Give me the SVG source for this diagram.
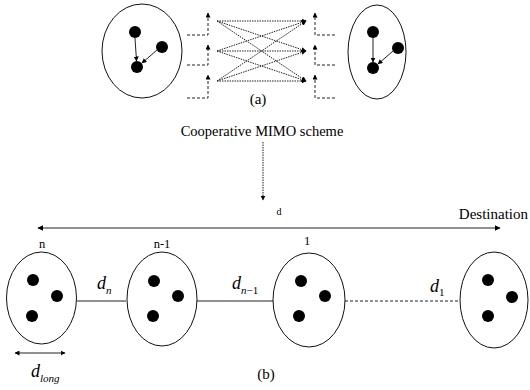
<svg xmlns="http://www.w3.org/2000/svg" width="530" height="390" viewBox="0 0 530 390">
<defs>
<marker id="ah" viewBox="0 0 10 10" refX="9" refY="5" markerWidth="6" markerHeight="6" orient="auto-start-reverse" markerUnits="userSpaceOnUse"><path d="M0,0 L10,5 L0,10 z" fill="#000"/></marker>
<marker id="ahs" viewBox="0 0 10 10" refX="9" refY="5" markerWidth="5" markerHeight="5" orient="auto-start-reverse" markerUnits="userSpaceOnUse"><path d="M0,0 L10,5 L0,10 z" fill="#000"/></marker>
</defs>
<style>
.ell{fill:#fff;stroke:#111;stroke-width:1}
.dot{fill:#000}
.ln{stroke:#222;stroke-width:1;fill:none}
.dash{stroke:#222;stroke-width:1;fill:none;stroke-dasharray:3 2}
.dot2{stroke:#222;stroke-width:1;fill:none;stroke-dasharray:1.5 1}
text{font-family:'Liberation Serif','Times New Roman','DejaVu Serif',serif;fill:#000}
.ti{font-style:italic}
</style>
<rect width="530" height="390" fill="#fff"/>

<g id="clusterA_left">
<ellipse class="ell" cx="142" cy="51" rx="40" ry="47"/>
<circle class="dot" cx="135" cy="32" r="6"/>
<circle class="dot" cx="162" cy="47" r="6"/>
<circle class="dot" cx="137" cy="67" r="6"/>
</g>
<g id="clusterA_right">
<ellipse class="ell" cx="377" cy="52" rx="29" ry="47"/>
<circle class="dot" cx="373" cy="32" r="6"/>
<circle class="dot" cx="398" cy="48" r="6"/>
<circle class="dot" cx="373" cy="68" r="6"/>
</g>

<g id="connectors">
<line class="ln" x1="135" y1="38" x2="136.5" y2="61" marker-end="url(#ahs)"/>
<line class="ln" x1="157" y1="50" x2="142" y2="63" marker-end="url(#ahs)"/>
<line class="ln" x1="373" y1="38" x2="373" y2="62" marker-end="url(#ahs)"/>
<line class="ln" x1="393" y1="51" x2="378" y2="64" marker-end="url(#ahs)"/>

<path class="dash" d="M187,35 H208 V13" marker-end="url(#ahs)"/>
<path class="dash" d="M187,65 H208 V45" marker-end="url(#ahs)"/>
<path class="dash" d="M187,98 H208 V75" marker-end="url(#ahs)"/>
<path class="dash" d="M335,35 H315 V13" marker-end="url(#ahs)"/>
<path class="dash" d="M335,65 H315 V45" marker-end="url(#ahs)"/>
<path class="dash" d="M335,98 H315 V75" marker-end="url(#ahs)"/>

<g class="dot2" marker-end="url(#ahs)">
<line x1="217" y1="21" x2="306" y2="21"/>
<line x1="217" y1="21" x2="306" y2="51"/>
<line x1="217" y1="21" x2="306" y2="81"/>
<line x1="217" y1="51" x2="306" y2="21"/>
<line x1="217" y1="51" x2="306" y2="51"/>
<line x1="217" y1="51" x2="306" y2="81"/>
<line x1="217" y1="81" x2="306" y2="21"/>
<line x1="217" y1="81" x2="306" y2="51"/>
<line x1="217" y1="81" x2="306" y2="81"/>
</g>

<line class="dot2" x1="263" y1="142" x2="263" y2="200" marker-end="url(#ahs)"/>
<line class="ln" x1="38" y1="228" x2="500" y2="228" stroke-width="1.3" marker-start="url(#ah)" marker-end="url(#ah)"/>

<line class="ln" x1="77" y1="301" x2="126" y2="301" stroke="#444" stroke-width="1.3"/>
<line class="ln" x1="197" y1="301" x2="273" y2="301" stroke="#444" stroke-width="1.3"/>
<line class="dash" x1="345" y1="301" x2="460" y2="301" stroke-dasharray="4 2.5"/>

<line class="ln" x1="15" y1="353" x2="65" y2="353" marker-start="url(#ahs)" marker-end="url(#ahs)"/>
</g>

<g id="cluster_n">
<ellipse class="ell" cx="41.5" cy="298" rx="35" ry="46"/>
<circle class="dot" cx="33" cy="280" r="6"/>
<circle class="dot" cx="57" cy="296" r="6"/>
<circle class="dot" cx="32" cy="316" r="6"/>
</g>
<g id="cluster_n1">
<ellipse class="ell" cx="162" cy="299" rx="35" ry="47"/>
<circle class="dot" cx="154" cy="281" r="6"/>
<circle class="dot" cx="178" cy="296" r="6"/>
<circle class="dot" cx="153" cy="316" r="6"/>
</g>
<g id="cluster_1">
<ellipse class="ell" cx="309" cy="300" rx="36" ry="47"/>
<circle class="dot" cx="301" cy="281" r="6"/>
<circle class="dot" cx="325" cy="296" r="6"/>
<circle class="dot" cx="299" cy="316" r="6"/>
</g>
<g id="cluster_dest">
<ellipse class="ell" cx="494" cy="300" rx="34" ry="48"/>
<circle class="dot" cx="488" cy="280" r="6"/>
<circle class="dot" cx="512" cy="297" r="6"/>
<circle class="dot" cx="488" cy="316" r="6"/>
</g>

<g id="labels">
<text x="258" y="104" font-size="15" text-anchor="middle">(a)</text>
<text x="262" y="136" font-size="14.5" text-anchor="middle">Cooperative MIMO scheme</text>
<text x="279" y="215" font-size="10" text-anchor="middle">d</text>
<text x="528" y="219" font-size="15" text-anchor="end">Destination</text>
<text x="42" y="248" font-size="12.5" text-anchor="middle">n</text>
<text x="162" y="248" font-size="12.5" text-anchor="middle">n-1</text>
<text x="307" y="245" font-size="12.5" text-anchor="middle">1</text>
<text class="ti" x="97" y="289" font-size="18">d<tspan font-size="11" dy="5">n</tspan></text>
<text class="ti" x="232" y="289" font-size="18">d<tspan font-size="11" dy="5">n</tspan><tspan font-style="normal" font-size="11">−1</tspan></text>
<text class="ti" x="430" y="292" font-size="18">d<tspan font-style="normal" font-size="11" dy="4">1</tspan></text>
<text class="ti" x="31" y="377" font-size="18">d<tspan font-size="11" dy="5">long</tspan></text>
<text x="266" y="379" font-size="15" text-anchor="middle">(b)</text>
</g>
</svg>
